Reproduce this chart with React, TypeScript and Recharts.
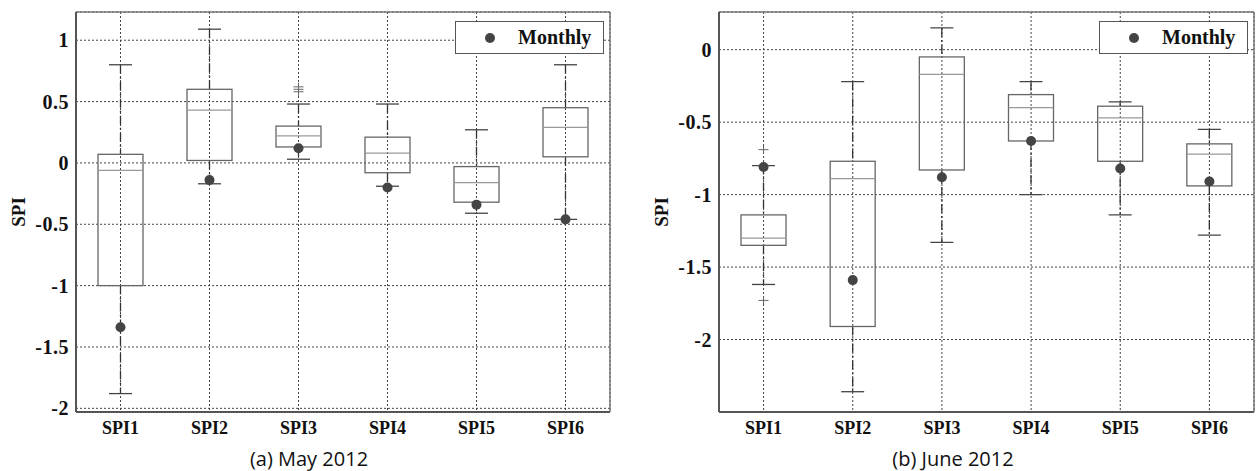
import React from 'react';
import { ComposedChart, Bar, Line, XAxis, YAxis, CartesianGrid, Legend } from 'recharts';

const categories = ['SPI1', 'SPI2', 'SPI3', 'SPI4', 'SPI5', 'SPI6'];

// (a) May 2012
const mayLow = [-1.88, -0.17, 0.03, -0.19, -0.41, -0.46];
const mayQ1 = [-1.0, 0.02, 0.13, -0.08, -0.32, 0.05];
const mayMedian = [-0.06, 0.43, 0.22, 0.08, -0.16, 0.29];
const mayQ3 = [0.07, 0.6, 0.3, 0.21, -0.03, 0.45];
const mayHigh = [0.8, 1.09, 0.48, 0.48, 0.27, 0.8];
const mayOutliers = [[], [], [0.58, 0.6, 0.62], [], [], []];
const mayMonthly = [-1.34, -0.14, 0.12, -0.2, -0.34, -0.46];
const mayTicks = [-2, -1.5, -1, -0.5, 0, 0.5, 1];

// (b) June 2012
const juneLow = [-1.62, -2.36, -1.33, -1.0, -1.14, -1.28];
const juneQ1 = [-1.35, -1.91, -0.83, -0.63, -0.77, -0.94];
const juneMedian = [-1.3, -0.89, -0.17, -0.4, -0.47, -0.72];
const juneQ3 = [-1.14, -0.77, -0.05, -0.31, -0.39, -0.65];
const juneHigh = [-0.8, -0.22, 0.15, -0.22, -0.36, -0.55];
const juneOutliers = [[-0.69, -1.73], [], [], [], [], []];
const juneMonthly = [-0.81, -1.59, -0.88, -0.63, -0.82, -0.91];
const juneTicks = [-2, -1.5, -1, -0.5, 0];

const buildRows = (
  low: number[], q1: number[], median: number[], q3: number[], high: number[],
  outliers: number[][], monthly: number[]
) =>
  categories.map((name, i) => ({
    name,
    box: [q1[i], q3[i]],
    low: low[i],
    q1: q1[i],
    median: median[i],
    q3: q3[i],
    high: high[i],
    outliers: outliers[i],
    monthly: monthly[i],
  }));

const mayData = buildRows(mayLow, mayQ1, mayMedian, mayQ3, mayHigh, mayOutliers, mayMonthly);
const juneData = buildRows(juneLow, juneQ1, juneMedian, juneQ3, juneHigh, juneOutliers, juneMonthly);

const serif = '"Liberation Serif", "Times New Roman", serif';

// box + whiskers, positions derived from the bar rectangle the scale gave us
const BoxShape = (props: any) => {
  const { x, y, width, height, payload } = props;
  if (x == null || y == null) return null;
  const top = Math.min(y, y + height);
  const h = Math.abs(height);
  const unit = h / (payload.q3 - payload.q1);
  const toY = (v: number) => top + (payload.q3 - v) * unit;
  const cx = x + width / 2;
  const cap = 11.5;
  return (
    <g>
      <line x1={cx} x2={cx} y1={toY(payload.high)} y2={top} stroke="#333" strokeWidth={1.3} strokeDasharray="9 3 2 3" />
      <line x1={cx} x2={cx} y1={top + h} y2={toY(payload.low)} stroke="#333" strokeWidth={1.3} strokeDasharray="9 3 2 3" />
      <line x1={cx - cap} x2={cx + cap} y1={toY(payload.high)} y2={toY(payload.high)} stroke="#444" strokeWidth={1.3} />
      <line x1={cx - cap} x2={cx + cap} y1={toY(payload.low)} y2={toY(payload.low)} stroke="#444" strokeWidth={1.3} />
      <rect x={x} y={top} width={width} height={h} fill="none" stroke="#666" strokeWidth={1.3} />
      <line x1={x} x2={x + width} y1={toY(payload.median)} y2={toY(payload.median)} stroke="#999" strokeWidth={1.3} />
      {payload.outliers.map((o: number, k: number) => (
        <g key={k}>
          <line x1={cx - 5} x2={cx + 5} y1={toY(o)} y2={toY(o)} stroke="#666" strokeWidth={1} />
          <line x1={cx} x2={cx} y1={toY(o) - 4} y2={toY(o) + 4} stroke="#666" strokeWidth={1} />
        </g>
      ))}
    </g>
  );
};

const MonthlyLegend = () => (
  <div
    style={{
      width: 149,
      height: 33,
      boxSizing: 'border-box',
      border: '1.5px solid #555',
      background: '#fff',
      display: 'flex',
      alignItems: 'center',
    }}
  >
    <svg width={12} height={12} style={{ marginLeft: 28 }}>
      <circle cx={6} cy={6} r={5} fill="#444" />
    </svg>
    <span style={{ marginLeft: 22, fontFamily: serif, fontWeight: 'bold', fontSize: 20, color: '#111' }}>Monthly</span>
  </div>
);

const renderYLabel = (props: any) => {
  const vb = props.viewBox;
  const cx = vb.x + 2;
  const cy = vb.y + vb.height / 2;
  return (
    <text
      x={cx}
      y={cy}
      transform={`rotate(-90, ${cx}, ${cy})`}
      textAnchor="middle"
      dominantBaseline="central"
      fontFamily={serif}
      fontWeight="bold"
      fontSize={19}
      fill="#111"
    >
      SPI
    </text>
  );
};

interface PanelProps {
  data: any[];
  domain: [number, number];
  ticks: number[];
  width: number;
  marginLeft: number;
  marginRight: number;
  legendLeft: number;
}

const Panel: React.FC<PanelProps> = ({ data, domain, ticks, width, marginLeft, marginRight, legendLeft }) => (
  <ComposedChart width={width} height={471} data={data} margin={{ top: 10, right: marginRight, left: marginLeft, bottom: 29 }}>
    <CartesianGrid stroke="#444" strokeDasharray="2 2" />
    <XAxis
      dataKey="name"
      tickLine={false}
      tickSize={0}
      tickMargin={9}
      height={30}
      axisLine={{ stroke: '#555', strokeWidth: 2 }}
      tick={{ fontFamily: serif, fontWeight: 'bold', fontSize: 18, fill: '#111' }}
    />
    <XAxis xAxisId="top" dataKey="name" orientation="top" height={2} tick={false} tickLine={false} axisLine={{ stroke: '#777', strokeWidth: 1.5 }} />
    <YAxis
      type="number"
      domain={domain}
      ticks={ticks}
      allowDataOverflow
      width={60}
      tickLine={false}
      tickSize={0}
      tickMargin={7}
      axisLine={{ stroke: '#555', strokeWidth: 2 }}
      tick={{ fontFamily: serif, fontWeight: 'bold', fontSize: 20, fill: '#111', letterSpacing: 0.5 }}
      label={renderYLabel}
    />
    <YAxis
      yAxisId="right"
      orientation="right"
      type="number"
      domain={domain}
      ticks={ticks}
      allowDataOverflow
      width={2}
      tick={false}
      tickLine={false}
      axisLine={{ stroke: '#777', strokeWidth: 1.5 }}
    />
    <Legend
      layout="horizontal"
      verticalAlign="middle"
      align="center"
      content={<MonthlyLegend />}
      wrapperStyle={{ left: legendLeft, top: 21, width: 149, height: 33 }}
    />
    <Bar dataKey="box" barSize={45} shape={<BoxShape />} isAnimationActive={false} legendType="none" />
    <Line
      dataKey="monthly"
      name="Monthly"
      stroke="none"
      dot={{ r: 5, fill: '#444', stroke: 'none' }}
      activeDot={false}
      legendType="circle"
      isAnimationActive={false}
    />
  </ComposedChart>
);

const captionStyle: React.CSSProperties = {
  position: 'absolute',
  top: 445,
  width: 240,
  textAlign: 'center',
  fontFamily: '"Open Sans", "Noto Sans", sans-serif',
  fontSize: 20,
  lineHeight: '28px',
  color: '#111',
};

export default function App() {
  return (
    <div style={{ position: 'absolute', left: 0, top: 0, width: 1256, height: 471, background: '#fff', overflow: 'hidden' }}>
      <div style={{ position: 'absolute', left: 0, top: 0 }}>
        <Panel data={mayData} domain={[-2.03, 1.23]} ticks={mayTicks} width={620} marginLeft={16} marginRight={8} legendLeft={455} />
      </div>
      <div style={{ position: 'absolute', left: 640, top: 0 }}>
        <Panel data={juneData} domain={[-2.5, 0.26]} ticks={juneTicks} width={616} marginLeft={19} marginRight={0} legendLeft={459} />
      </div>
      <div style={{ ...captionStyle, left: 309 - 120 }}>(a) May 2012</div>
      <div style={{ ...captionStyle, left: 953 - 120 }}>(b) June 2012</div>
    </div>
  );
}
